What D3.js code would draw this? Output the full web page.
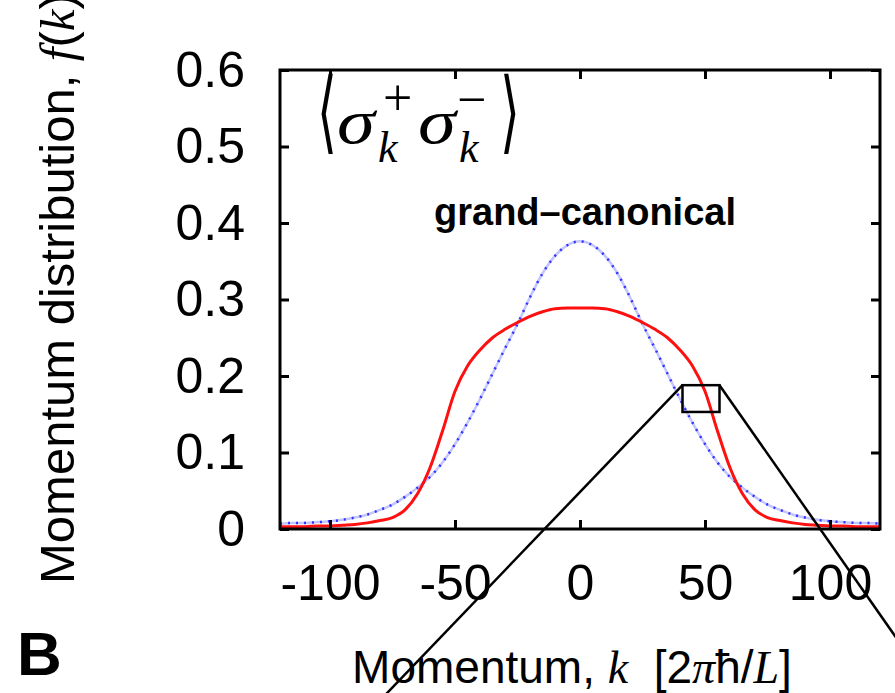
<!DOCTYPE html>
<html>
<head>
<meta charset="utf-8">
<script src="https://cdn.jsdelivr.net/npm/d3@7"></script>
<style>
  body { margin: 0; background: #fff; }
  svg { display: block; }
  text { white-space: pre; }
</style>
</head>
<body>
<svg id="chart" width="895" height="693"></svg>
<script>
// Momentum grid k, in units of 2πħ/L
const momentum = [-120, -115, -110, -105, -100, -95, -90, -85, -80, -75, -70, -65, -60, -55, -50, -45, -40, -35, -30, -25, -20, -15, -10, -5,
                  0, 5, 10, 15, 20, 25, 30, 35, 40, 45, 50, 55, 60, 65, 70, 75, 80, 85, 90, 95, 100, 105, 110, 115, 120];

// Canonical momentum distribution (solid red)
const canonical = [0.003, 0.003, 0.003, 0.004, 0.004, 0.005, 0.006, 0.008, 0.011, 0.015, 0.025, 0.046, 0.080, 0.128, 0.180, 0.213, 0.234, 0.250, 0.261, 0.270, 0.278, 0.284, 0.288, 0.289,
                   0.289, 0.289, 0.288, 0.284, 0.278, 0.270, 0.261, 0.250, 0.234, 0.213, 0.180, 0.128, 0.080, 0.046, 0.025, 0.015, 0.011, 0.008, 0.006, 0.005, 0.004, 0.004, 0.003, 0.003, 0.003];

// Grand-canonical momentum distribution (dotted blue)
const grandCanonical = [0.007, 0.008, 0.008, 0.009, 0.010, 0.012, 0.015, 0.019, 0.025, 0.032, 0.042, 0.054, 0.068, 0.087, 0.111, 0.139, 0.170, 0.203, 0.236, 0.268, 0.303, 0.334, 0.357, 0.371,
                        0.376, 0.371, 0.357, 0.334, 0.303, 0.268, 0.236, 0.203, 0.170, 0.139, 0.111, 0.087, 0.068, 0.054, 0.042, 0.032, 0.025, 0.019, 0.015, 0.012, 0.010, 0.009, 0.008, 0.008, 0.007];

const xTicks = [-100, -50, 0, 50, 100];
const xTickLabels = ["-100", "-50", "0", "50", "100"];
const yTicks = [0, 0.1, 0.2, 0.3, 0.4, 0.5, 0.6];
const yTickLabels = ["0", "0.1", "0.2", "0.3", "0.4", "0.5", "0.6"];

// Magnified window on the falling edge, and the guide lines leading out of the frame
const zoomWindow = { k0: 41, k1: 55.8, f0: 0.153, f1: 0.188 };
const guideEnds = [{ k: -87.6, f: -0.25 }, { k: 149.6, f: -0.25 }];

const frame = { left: 280, right: 880, top: 70, bottom: 529 };
const svg = d3.select("#chart");

const x = d3.scaleLinear().domain([-120, 120]).range([frame.left, frame.right]);
const y = d3.scaleLinear().domain([0, 0.6]).range([frame.bottom, frame.top]);

const sans = "'Liberation Sans', Arial, Helvetica, sans-serif";
const serif = "'Liberation Serif', 'Times New Roman', serif";

// Curves
const pts = (vals) => momentum.map((k, i) => [k, vals[i]]);
const line = d3.line().x(d => x(d[0])).y(d => y(d[1])).curve(d3.curveMonotoneX);

svg.append("path").attr("d", line(pts(grandCanonical)))
  .attr("fill", "none").attr("stroke", "#c2c5ff").attr("stroke-width", 2.5);
svg.append("path").attr("d", line(pts(grandCanonical)))
  .attr("fill", "none").attr("stroke", "#3333ff").attr("stroke-width", 2.5)
  .attr("stroke-dasharray", "2,6");
svg.append("path").attr("d", line(pts(canonical)))
  .attr("fill", "none").attr("stroke", "#ff1010").attr("stroke-width", 3);

// Axes with inward ticks on all four sides
function styleAxis(g) {
  g.select(".domain").remove();
  g.selectAll(".tick line").attr("stroke", "#000").attr("stroke-width", 3);
  g.selectAll(".tick text").attr("fill", "#000").style("font-family", sans).style("font-size", "50px");
}
svg.append("g").attr("transform", `translate(0,${frame.bottom})`)
  .call(d3.axisBottom(x).tickValues(xTicks).tickSize(-9).tickPadding(35.5).tickFormat((d, i) => xTickLabels[i]))
  .call(styleAxis);
svg.append("g").attr("transform", `translate(0,${frame.top})`)
  .call(d3.axisTop(x).tickValues(xTicks).tickSize(-9).tickFormat(""))
  .call(styleAxis);
svg.append("g").attr("transform", `translate(${frame.left},0)`)
  .call(d3.axisLeft(y).tickValues(yTicks).tickSize(-9).tickPadding(35).tickFormat((d, i) => yTickLabels[i]))
  .call(styleAxis);
svg.append("g").attr("transform", `translate(${frame.right},0)`)
  .call(d3.axisRight(y).tickValues(yTicks).tickSize(-9).tickFormat(""))
  .call(styleAxis);

// Frame
svg.append("rect")
  .attr("x", frame.left).attr("y", frame.top)
  .attr("width", frame.right - frame.left).attr("height", frame.bottom - frame.top)
  .attr("fill", "none").attr("stroke", "#000").attr("stroke-width", 3);

// Magnification window and guide lines
svg.append("rect")
  .attr("x", x(zoomWindow.k0)).attr("y", y(zoomWindow.f1))
  .attr("width", x(zoomWindow.k1) - x(zoomWindow.k0)).attr("height", y(zoomWindow.f0) - y(zoomWindow.f1))
  .attr("fill", "none").attr("stroke", "#000").attr("stroke-width", 2.5);
svg.append("line")
  .attr("x1", x(zoomWindow.k0)).attr("y1", y(zoomWindow.f1))
  .attr("x2", x(guideEnds[0].k)).attr("y2", y(guideEnds[0].f))
  .attr("stroke", "#000").attr("stroke-width", 2.5);
svg.append("line")
  .attr("x1", x(zoomWindow.k1)).attr("y1", y(zoomWindow.f1))
  .attr("x2", x(guideEnds[1].k)).attr("y2", y(guideEnds[1].f))
  .attr("stroke", "#000").attr("stroke-width", 2.5);

// Axis titles
const xt = svg.append("text").attr("x", 572).attr("y", 683).attr("text-anchor", "middle")
  .style("font-family", sans).style("font-size", "46px");
xt.append("tspan").text("Momentum, ");
xt.append("tspan").style("font-family", serif).style("font-style", "italic").text("k");
xt.append("tspan").text("  [2");
xt.append("tspan").style("font-family", serif).style("font-style", "italic").text("π");
xt.append("tspan").text("ħ/");
xt.append("tspan").style("font-family", serif).style("font-style", "italic").text("L");
xt.append("tspan").text("]");

const yt = svg.append("text").attr("transform", "translate(74,584) rotate(-90)")
  .style("font-family", sans).style("font-size", "49px");
yt.append("tspan").text("Momentum distribution, ");
yt.append("tspan").style("font-family", serif).style("font-style", "italic").text("f");
yt.append("tspan").text("(");
yt.append("tspan").style("font-family", serif).style("font-style", "italic").text("k");
yt.append("tspan").text(")");

// Panel letter
svg.append("text").attr("x", 17).attr("y", 675)
  .style("font-family", sans).style("font-weight", "bold").style("font-size", "62px").text("B");

// Curve annotation
svg.append("text").attr("x", 585).attr("y", 225).attr("text-anchor", "middle")
  .style("font-family", sans).style("font-weight", "bold").style("font-size", "38px")
  .text("grand–canonical");

// Correlator label ⟨σ_k^+ σ_k^-⟩
const math = svg.append("g");
const sym = (tx, ty, s, size, fam, italic, sx = 1, sy = 1) => math.append("text")
  .attr("transform", `translate(${tx},${ty}) scale(${sx},${sy})`)
  .style("font-family", fam).style("font-size", size + "px")
  .style("font-style", italic ? "italic" : "normal").text(s);
const dv = "'DejaVu Serif', serif";
sym(317, 142, "⟨", 60, dv, false, 0.85, 1.5);
sym(337, 143, "σ", 64, serif, true, 1.2, 1);
sym(383, 115, "+", 52, serif, false);
sym(378, 162, "k", 44, serif, true);
sym(418, 143, "σ", 64, serif, true, 1.2, 1);
sym(457, 117, "−", 52, serif, false);
sym(459, 162, "k", 44, serif, true);
sym(500, 142, "⟩", 60, dv, false, 0.85, 1.5);
</script>
</body>
</html>
